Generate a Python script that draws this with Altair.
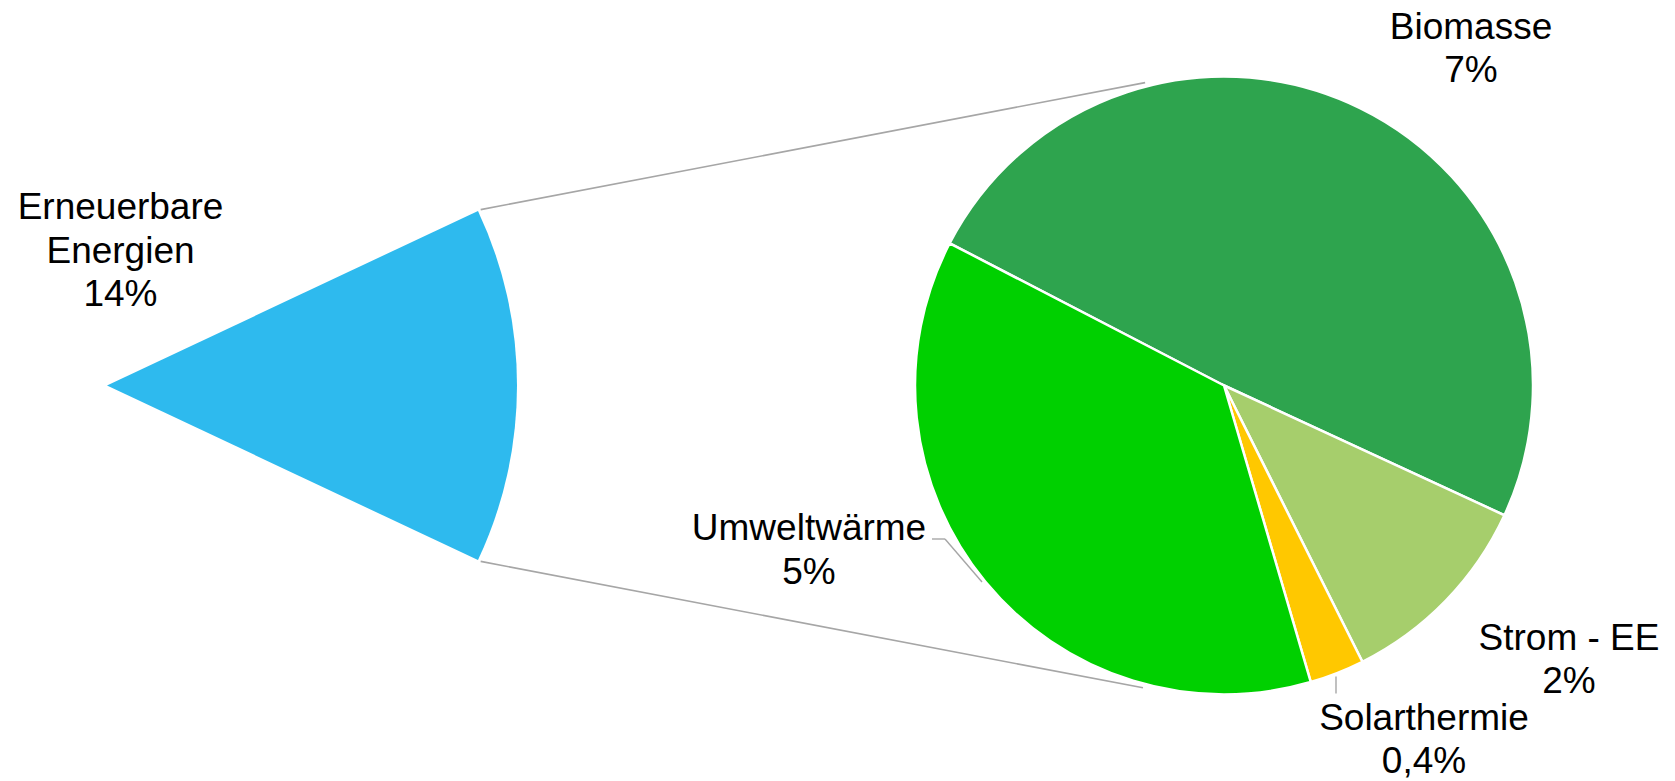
import math
import altair as alt
import pandas as pd

W, H = 1675, 781

# ---------------- data ----------------
left_categories = ["Erneuerbare Energien"]
left_values = [14]
left_total = 100
left_labels = ["Erneuerbare\nEnergien\n14%"]

right_categories = ["Biomasse", "Strom - EE", "Solarthermie", "Umweltwärme"]
right_values = [6.9, 1.5, 0.4, 5.2]
right_labels = ["Biomasse\n7%", "Strom - EE\n2%", "Solarthermie\n0,4%", "Umweltwärme\n5%"]

# ---------------- styles / layout ----------------
left_colors = ["#2EBAEE"]
right_colors = ["#2EA44E", "#A6CE6C", "#FFC800", "#00D000"]
FONT = "Liberation Sans"
FONT_SIZE = 37
LINE_H = 43.5
GREY = "#A6A6A6"

LCX, LCY, LR = 107, 385.5, 410          # left pie centre / radius
RCX, RCY, RR = 1224, 385.5, 309         # right pie centre / radius
left_start = math.pi / 2 - math.pi * left_values[0] / left_total
right_start = math.radians(297.4)

# label anchor (centre x, first baseline y)
left_label_pos = [(120.5, 219)]
right_label_pos = [(1471, 38.5), (1569, 649.5), (1424, 729.5), (809, 540)]

xs = alt.Scale(domain=[0, W], range=[0, W])
ys = alt.Scale(domain=[0, H], range=[0, H])

# connector lines (pie-of-pie) derived from geometry
span = 2 * math.pi * left_values[0] / left_total
a_top, a_bot = left_start, left_start + span
r_out = LR + 3
end_top, end_bot = math.radians(345.4), math.radians(195.0)
r_end = RR + 4
seg_rows = [
    dict(x=LCX + r_out * math.sin(a_top), y=LCY - r_out * math.cos(a_top),
         x2=RCX + r_end * math.sin(end_top), y2=RCY - r_end * math.cos(end_top)),
    dict(x=LCX + r_out * math.sin(a_bot), y=LCY - r_out * math.cos(a_bot),
         x2=RCX + r_end * math.sin(end_bot), y2=RCY - r_end * math.cos(end_bot)),
]
# leader lines for small labels
umw_x, umw_y = right_label_pos[3]
sol_x, sol_y = right_label_pos[2]
leader_rows = [
    dict(x=umw_x + 123, y=umw_y - 1, x2=umw_x + 136, y2=umw_y - 1),
    dict(x=umw_x + 136, y=umw_y - 1, x2=umw_x + 173, y2=umw_y + 42),
    dict(x=sol_x - 88, y=sol_y - 53, x2=sol_x - 88, y2=sol_y - 36),
]

seg_df = pd.DataFrame(seg_rows)
leader_df = pd.DataFrame(leader_rows)

left_df = pd.DataFrame({"category": left_categories, "value": left_values,
                        "order": list(range(len(left_values)))})
right_df = pd.DataFrame({"category": right_categories, "value": right_values,
                         "order": list(range(len(right_values)))})

label_df = pd.DataFrame({
    "text": left_labels + right_labels,
    "x": [p[0] for p in left_label_pos + right_label_pos],
    "y": [p[1] for p in left_label_pos + right_label_pos],
})

connectors = alt.Chart(seg_df).mark_rule(color=GREY, strokeWidth=1.6).encode(
    x=alt.X("x:Q", scale=xs, axis=None), y=alt.Y("y:Q", scale=ys, axis=None),
    x2="x2:Q", y2="y2:Q")

leaders = alt.Chart(leader_df).mark_rule(color=GREY, strokeWidth=1.4).encode(
    x=alt.X("x:Q", scale=xs, axis=None), y=alt.Y("y:Q", scale=ys, axis=None),
    x2="x2:Q", y2="y2:Q")

left_pie = alt.Chart(left_df).mark_arc(radius=LR).encode(
    theta=alt.Theta("value:Q", stack=True,
                    scale=alt.Scale(domain=[0, left_total],
                                    range=[left_start, left_start + 2 * math.pi])),
    order=alt.Order("order:Q"),
    color=alt.Color("category:N", legend=None,
                    scale=alt.Scale(domain=left_categories, range=left_colors)),
    x=alt.value(LCX), y=alt.value(LCY))

right_pie = alt.Chart(right_df).mark_arc(radius=RR, stroke="white", strokeWidth=2.5).encode(
    theta=alt.Theta("value:Q", stack=True,
                    scale=alt.Scale(range=[right_start, right_start + 2 * math.pi])),
    order=alt.Order("order:Q"),
    color=alt.Color("category:N", legend=None,
                    scale=alt.Scale(domain=right_categories, range=right_colors)),
    x=alt.value(RCX), y=alt.value(RCY))

labels = alt.Chart(label_df).mark_text(
    font=FONT, fontSize=FONT_SIZE, color="black", align="center",
    baseline="alphabetic", lineBreak="\n", lineHeight=LINE_H).encode(
    x=alt.X("x:Q", scale=xs, axis=None), y=alt.Y("y:Q", scale=ys, axis=None),
    text="text:N")

chart = alt.layer(left_pie, connectors, leaders, right_pie, labels).resolve_scale(
    theta="independent", color="independent"
).properties(
    width=W, height=H, padding=0, autosize=alt.AutoSizeParams(type="none"),
    background="white"
).configure_view(strokeWidth=0)

chart.save("out.html", embed_options={"renderer": "svg", "actions": False})
